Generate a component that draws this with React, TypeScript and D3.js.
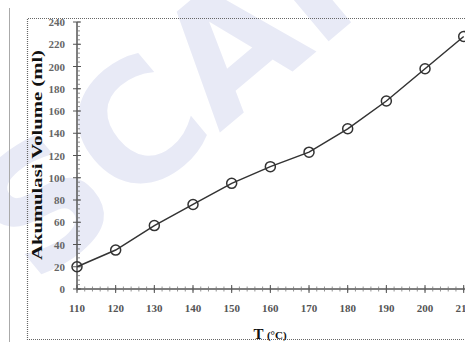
import React, { useEffect, useRef } from "react";
import * as d3 from "d3";

const temps = [110, 120, 130, 140, 150, 160, 170, 180, 190, 200, 210];
const volumes = [20, 35, 57, 76, 95, 110, 123, 144, 169, 198, 227];
const yTicks = [0, 20, 40, 60, 80, 100, 120, 140, 160, 180, 200, 220, 240];
const xTicks = [110, 120, 130, 140, 150, 160, 170, 180, 190, 200, 210];

const W = 465;
const H = 342;

const App = () => {
  const ref = useRef<SVGSVGElement>(null);

  useEffect(() => {
    const svg = d3.select(ref.current);
    svg.selectAll("*").remove();

    const x = d3.scaleLinear().domain([110, 210]).range([77, 463.7]);
    const y = d3.scaleLinear().domain([0, 240]).range([289, 22]);
    const serif = "'Liberation Serif', 'Times New Roman', serif";

    svg.append("rect").attr("width", W).attr("height", H).attr("fill", "#fff");

    // faint watermark behind the plot
    svg.append("text")
      .attr("transform", "translate(200,90) rotate(-40)")
      .attr("text-anchor", "middle")
      .attr("dominant-baseline", "middle")
      .attr("font-family", "'DejaVu Sans', sans-serif")
      .attr("font-weight", "bold")
      .attr("font-size", 165)
      .attr("fill", "#e8eaf6")
      .text("SCAN");

    // page edge line and dotted frame
    svg.append("line")
      .attr("x1", 9.5).attr("x2", 9.5).attr("y1", 8).attr("y2", H)
      .attr("stroke", "#aaa").attr("stroke-width", 1);

    svg.append("path")
      .attr("d", `M${W + 2},18.5 H27.5 V339.5 H${W + 2}`)
      .attr("fill", "none")
      .attr("stroke", "#666")
      .attr("stroke-width", 1.2)
      .attr("stroke-dasharray", "1,1");

    // y axis
    const yAxis = svg.append("g");
    yAxis.append("line")
      .attr("x1", 77).attr("x2", 77).attr("y1", y(240)).attr("y2", y(0))
      .attr("stroke", "#555").attr("stroke-width", 1.5);
    yAxis.selectAll("line.minor")
      .data(d3.range(0, 241, 4))
      .enter().append("line")
      .attr("x1", 77).attr("x2", 80)
      .attr("y1", d => y(d)).attr("y2", d => y(d))
      .attr("stroke", "#777").attr("stroke-width", 0.8);
    yAxis.selectAll("line.major")
      .data(yTicks)
      .enter().append("line")
      .attr("x1", 73).attr("x2", 81)
      .attr("y1", d => y(d)).attr("y2", d => y(d))
      .attr("stroke", "#555").attr("stroke-width", 1);
    yAxis.selectAll("text")
      .data(yTicks)
      .enter().append("text")
      .attr("x", 65)
      .attr("y", d => y(d) + 4)
      .attr("text-anchor", "end")
      .attr("font-family", serif)
      .attr("font-weight", "bold")
      .attr("font-size", 11)
      .attr("fill", "#666")
      .text(d => d);

    // x axis
    const xAxis = svg.append("g");
    xAxis.append("line")
      .attr("x1", 77).attr("x2", W).attr("y1", y(0)).attr("y2", y(0))
      .attr("stroke", "#555").attr("stroke-width", 1.5);
    xAxis.selectAll("line.minor")
      .data(d3.range(110, 212, 2))
      .enter().append("line")
      .attr("x1", d => x(d)).attr("x2", d => x(d))
      .attr("y1", y(0) - 2.5).attr("y2", y(0) + 2.5)
      .attr("stroke", "#777").attr("stroke-width", 0.8);
    xAxis.selectAll("line.major")
      .data(xTicks)
      .enter().append("line")
      .attr("x1", d => x(d)).attr("x2", d => x(d))
      .attr("y1", y(0) - 4).attr("y2", y(0) + 4)
      .attr("stroke", "#555").attr("stroke-width", 1);
    xAxis.selectAll("text")
      .data(xTicks)
      .enter().append("text")
      .attr("x", d => x(d))
      .attr("y", 312)
      .attr("text-anchor", "middle")
      .attr("font-family", serif)
      .attr("font-weight", "bold")
      .attr("font-size", 11)
      .attr("fill", "#555")
      .text(d => d);

    // axis titles
    const xt = svg.append("text")
      .attr("x", 270).attr("y", 339)
      .attr("text-anchor", "middle")
      .attr("font-family", serif)
      .attr("font-weight", "bold")
      .attr("fill", "#111");
    xt.append("tspan").attr("font-size", 15).text("T ");
    xt.append("tspan").attr("font-size", 11).text("(°C)");

    svg.append("text")
      .attr("transform", "translate(42,155) rotate(-90)")
      .attr("text-anchor", "middle")
      .attr("font-family", serif)
      .attr("font-weight", "bold")
      .attr("font-size", 14)
      .attr("fill", "#111")
      .attr("textLength", 210)
      .attr("lengthAdjust", "spacingAndGlyphs")
      .text("Akumulasi Volume (ml)");

    // series
    const pts = temps.map((t, i) => [t, volumes[i]] as [number, number]);
    const line = d3.line<[number, number]>()
      .x(d => x(d[0]))
      .y(d => y(d[1]));

    svg.append("path")
      .datum(pts)
      .attr("d", line)
      .attr("fill", "none")
      .attr("stroke", "#333")
      .attr("stroke-width", 1.5);

    svg.selectAll("circle")
      .data(pts)
      .enter().append("circle")
      .attr("cx", d => x(d[0]))
      .attr("cy", d => y(d[1]))
      .attr("r", 5)
      .attr("fill", "none")
      .attr("stroke", "#333")
      .attr("stroke-width", 1.5);
  }, []);

  return (
    <svg
      ref={ref}
      width={W}
      height={H}
      style={{ position: "absolute", left: 0, top: 0, display: "block" }}
    />
  );
};

export default App;
